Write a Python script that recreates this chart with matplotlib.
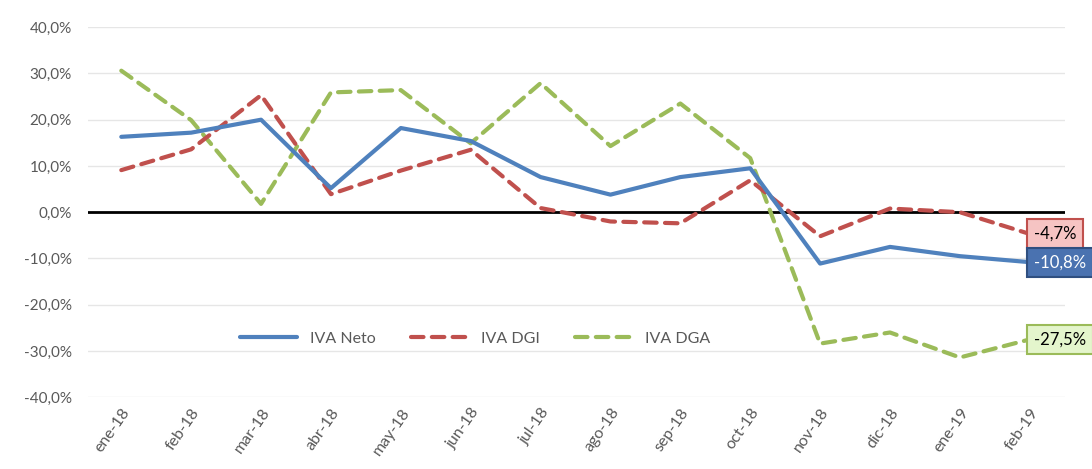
import matplotlib
matplotlib.use("Agg")
import matplotlib.pyplot as plt
from matplotlib.ticker import FuncFormatter

plt.rcParams['font.family'] = ['Lato', 'DejaVu Sans']

months = ['ene-18', 'feb-18', 'mar-18', 'abr-18', 'may-18', 'jun-18', 'jul-18',
          'ago-18', 'sep-18', 'oct-18', 'nov-18', 'dic-18', 'ene-19', 'feb-19']
iva_neto = [16.3, 17.2, 20.0, 5.2, 18.2, 15.4, 7.6, 3.8, 7.6, 9.5, -11.1, -7.5, -9.5, -10.8]
iva_dgi = [9.1, 13.6, 25.3, 3.9, 9.0, 13.5, 0.9, -2.0, -2.4, 6.9, -5.2, 0.8, 0.0, -4.7]
iva_dga = [30.6, 19.9, 1.8, 25.9, 26.4, 14.9, 27.9, 14.3, 23.5, 11.7, -28.4, -26.0, -31.4, -27.5]

c_neto = '#4f81bd'
c_dgi = '#c0504d'
c_dga = '#9bbb59'
grey = '#595959'

fig = plt.figure(figsize=(10.92, 4.69), dpi=100)
ax = fig.add_axes([0.081, 0.153, 0.894, 0.789])

x = list(range(len(months)))
ax.plot(x, iva_neto, color=c_neto, lw=3, label='IVA Neto', solid_capstyle='round', zorder=4)
ax.plot(x, iva_dgi, color=c_dgi, lw=3, ls=(0, (3, 2)), label='IVA DGI', dash_capstyle='round', zorder=3)
ax.plot(x, iva_dga, color=c_dga, lw=3, ls=(0, (3, 2)), label='IVA DGA', dash_capstyle='round', zorder=2)

ax.axhline(0, color='black', lw=2, zorder=1)

ax.set_ylim(-40, 40)
ax.set_xlim(-0.47, 13.5)
ax.set_yticks(range(-40, 41, 10))
ax.yaxis.set_major_formatter(FuncFormatter(lambda v, p: f'{v:.1f}%'.replace('.', ',')))
ax.set_xticks(x)
ax.set_xticklabels(months, rotation=55, ha='right', rotation_mode='anchor')
ax.tick_params(axis='x', labelsize=11.5, pad=6)
ax.tick_params(axis='y', labelsize=11, pad=12)
ax.tick_params(axis='both', length=0, colors=grey)
ax.grid(axis='y', color='#e6e6e6', lw=1)
ax.set_axisbelow(True)
for s in ax.spines.values():
    s.set_visible(False)

# end labels
last = len(months) - 1
boxes = [(iva_dgi[-1], '#f6c4c3', c_dgi, 'black'),
         (iva_neto[-1], '#4a72b0', '#2f4f80', 'white'),
         (iva_dga[-1], '#e4f5cc', c_dga, 'black')]
for val, fc, ec, tc in boxes:
    ax.annotate(f'{val:.1f}%'.replace('.', ','), xy=(last, val), xytext=(3, 0),
                textcoords='offset points', ha='left', va='center', fontsize=12, color=tc,
                bbox=dict(boxstyle='square,pad=0.4', fc=fc, ec=ec, lw=1.5), zorder=6,
                annotation_clip=False)

ax.legend(loc='center', bbox_to_anchor=(0.396, 0.158), ncol=3, frameon=False,
          fontsize=11.5, handlelength=3.6, columnspacing=2.2, labelcolor=grey)

fig.savefig('out.png', dpi=100)
